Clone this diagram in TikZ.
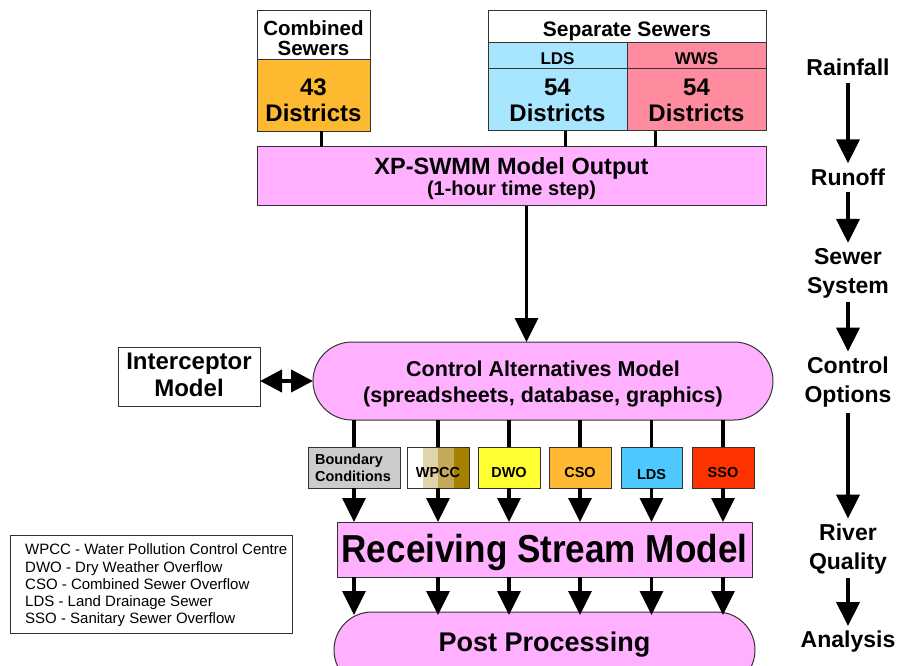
\documentclass[tikz,border=0pt]{standalone}
\usepackage{fontspec}
\setmainfont{Liberation Sans}
\newfontfamily\narrowfont[FakeStretch=0.9]{Liberation Sans}
\usetikzlibrary{arrows.meta}

\definecolor{modelpink}{HTML}{FFB0FF}
\definecolor{combinedorange}{HTML}{FDBA31}
\definecolor{ldsblue}{HTML}{A8E6FF}
\definecolor{wwspink}{HTML}{FF8C9E}
\definecolor{bcgray}{HTML}{CCCCCC}
\definecolor{dwoyellow}{HTML}{FFFF33}
\definecolor{csoorange}{HTML}{FFB833}
\definecolor{ldssmall}{HTML}{4DC9FF}
\definecolor{ssored}{HTML}{FF3300}
\definecolor{wpccA}{HTML}{E0D5AA}
\definecolor{wpccB}{HTML}{C5A95A}
\definecolor{wpccC}{HTML}{A68100}
\definecolor{edge}{HTML}{333333}

\newcommand{\fsz}[2]{\fontsize{#1}{#2}\selectfont}

\tikzset{
  box/.style={draw=edge, line width=1pt, inner sep=0pt, outer sep=0pt},
  stadium/.style={box, rounded corners=#1},
  txt/.style={inner sep=0pt, align=center, font=\bfseries},
  link/.style={line width=3.5pt, black},
  flow/.style={link, -{Triangle[width=23pt,length=24pt]}},
  twoway/.style={line width=4pt, black, {Triangle[width=22pt,length=22pt]}-{Triangle[width=22pt,length=22pt]}},
  stage/.style={txt, font=\bfseries\fsz{23}{29}},
  tag/.style={box, minimum height=41pt},
  tagtext/.style={txt, align=left, font=\bfseries\fsz{14.5}{17}},
}

\begin{document}
\begin{tikzpicture}[x=1pt, y=-1pt]
\useasboundingbox (0,0) rectangle (898,666);
\clip (0,0) rectangle (898,666);

% ---- sewer catchments ----
\node[box, fill=white, minimum width=113pt, minimum height=49pt] (cs) at (313.5,35) {};
\node[box, fill=combinedorange, minimum width=113pt, minimum height=72pt] (c43) at (313.5,95.5) {};
\node[txt, font=\bfseries\fsz{20.5}{20.5}] (cst) at ([yshift=-3pt]cs.center) {Combined\\Sewers};
\node[txt, font=\bfseries\fsz{24}{26}] (c43t) at ([yshift=-4.5pt]c43.center) {43\\Districts};

\node[box, fill=white, minimum width=278pt, minimum height=32pt] (ss) at (627,27) {};
\node[box, fill=ldsblue, minimum width=139pt, minimum height=26pt] (ldsh) at (557.5,56) {};
\node[box, fill=wwspink, minimum width=139pt, minimum height=26pt] (wwsh) at (696.5,56) {};
\node[box, fill=ldsblue, minimum width=139pt, minimum height=62pt] (lds54) at (557.5,100) {};
\node[box, fill=wwspink, minimum width=139pt, minimum height=62pt] (wws54) at (696.5,100) {};
\node[txt, font=\bfseries\fsz{21}{21}] (sst) at ([yshift=-4pt]ss.center) {Separate Sewers};
\node[txt, font=\bfseries\fsz{17}{17}] (ldsht) at ([yshift=-3pt]ldsh.center) {LDS};
\node[txt, font=\bfseries\fsz{17}{17}] (wwsht) at ([yshift=-3pt]wwsh.center) {WWS};
\node[txt, font=\bfseries\fsz{24}{26}] (lds54t) at (lds54.center) {54\\Districts};
\node[txt, font=\bfseries\fsz{24}{26}] (wws54t) at (wws54.center) {54\\Districts};

% ---- runoff model ----
\node[box, fill=modelpink, minimum width=509pt, minimum height=59pt] (xp) at (511.5,176.5) {};
\node[txt] (xpt) at ([yshift=-2pt]xp.center) {\fsz{23.5}{24}XP-SWMM Model Output\\\fsz{20}{24}(1-hour time step)};

\draw[link] ([xshift=8pt]c43.south) -- ([xshift=8pt]c43.south |- xp.north);
\draw[link] ([xshift=8pt]lds54.south) -- ([xshift=8pt]lds54.south |- xp.north);
\draw[link] ([xshift=-41pt]wws54.south) -- ([xshift=-41pt]wws54.south |- xp.north);

% ---- control alternatives ----
\node[stadium=39pt, fill=modelpink, minimum width=460pt, minimum height=78pt] (ca) at (543,381) {};
\node[txt, font=\bfseries\fsz{21.5}{26}] (cat) at ([yshift=-3pt]ca.center)
  {Control Alternatives Model\\(spreadsheets, database, graphics)};
\draw[flow] ([xshift=15pt]xp.south) -- ([xshift=15pt]xp.south |- ca.north);

\node[box, fill=white, minimum width=142pt, minimum height=59pt] (im) at (189,376.5) {};
\node[txt, font=\bfseries\fsz{24}{27}] (imt) at ([yshift=1.5pt]im.center) {Interceptor\\Model};
\draw[twoway] (im.east |- ca.west) -- (ca.west);

% ---- loading sources ----
\node[tag, fill=bcgray, minimum width=92pt] (bc) at (354,467.5) {};
\node[tag, minimum width=62pt] (wpcc) at (438,467.5) {};
\fill[white] (wpcc.north west) rectangle ([xshift=15.5pt]wpcc.south west);
\fill[wpccA] ([xshift=15.5pt]wpcc.north west) rectangle ([xshift=31pt]wpcc.south west);
\fill[wpccB] ([xshift=31pt]wpcc.north west) rectangle ([xshift=46.5pt]wpcc.south west);
\fill[wpccC] ([xshift=46.5pt]wpcc.north west) rectangle (wpcc.south east);
\draw[edge, line width=1pt] (wpcc.north west) rectangle (wpcc.south east);
\node[tag, fill=dwoyellow, minimum width=62pt] (dwo) at (509,467.5) {};
\node[tag, fill=csoorange, minimum width=62pt] (cso) at (580,467.5) {};
\node[tag, fill=ldssmall, minimum width=61pt] (ldss) at (651.5,467.5) {};
\node[tag, fill=ssored, minimum width=62pt] (sso) at (723,467.5) {};

\node[tagtext] (bct) at ([xshift=-1pt]bc.center) {Boundary\\Conditions};
\node[tagtext] (wpcct) at ([yshift=-5pt]wpcc.center) {WPCC};
\node[tagtext] (dwot) at ([yshift=-5pt]dwo.center) {DWO};
\node[tagtext] (csot) at ([yshift=-5pt]cso.center) {CSO};
\node[tagtext] (ldst) at ([yshift=-7pt]ldss.center) {LDS};
\node[tagtext] (ssot) at ([yshift=-5pt]sso.center) {SSO};

% ---- receiving stream and post processing ----
\node[box, fill=modelpink, minimum width=415pt, minimum height=55pt] (rsm) at (544.5,549.5) {};
\node[txt, font=\narrowfont\bfseries\fsz{39}{40}] (rsmt) at ([yshift=-3pt]rsm.center) {Receiving Stream Model};
\node[stadium=38pt, fill=modelpink, minimum width=421pt, minimum height=76pt] (pp) at (544.5,650) {};
\node[txt, font=\bfseries\fsz{27}{28}] (ppt) at (544.5,645) {Post Processing};

\foreach \s in {bc,wpcc,dwo,cso,ldss,sso}{
  \draw[link] (\s.north |- ca.south) -- (\s.north);
  \draw[flow] (\s.south) -- (\s.south |- rsm.north);
  \draw[flow] (\s.south |- rsm.south) -- ([yshift=-3pt]\s.south |- pp.north);
}

% ---- abbreviations ----
\node[box, minimum width=282pt, minimum height=98pt] (legend) at (151,584) {};
\node[anchor=west, align=left, inner sep=0pt, font=\fsz{15}{17.25}] (legendtext) at (25,585.5)
  {WPCC - Water Pollution Control Centre\\DWO - Dry Weather Overflow\\CSO - Combined Sewer Overflow\\LDS - Land Drainage Sewer\\SSO - Sanitary Sewer Overflow};

% ---- process stages ----
\node[stage] (rain) at (848,67) {Rainfall};
\node[stage] (runoff) at (848,177) {Runoff};
\node[stage] (sewer) at (848,273) {Sewer\\System};
\node[stage] (options) at (848,382) {Control\\Options};
\node[stage] (river) at (848,549) {River\\Quality};
\node[stage] (analysis) at (848,642) {Analysis};

\draw[flow] ([yshift=-7pt]rain.south) -- ([yshift=5pt]runoff.north);
\draw[flow] ([yshift=-6pt]runoff.south) -- ([yshift=5pt]sewer.north);
\draw[flow] ([yshift=-4pt]sewer.south) -- ([yshift=5pt]options.north);
\draw[flow] ([yshift=-6pt]options.south) -- ([yshift=5pt]river.north);
\draw[flow] ([yshift=-4pt]river.south) -- ([yshift=5pt]analysis.north);
\end{tikzpicture}
\end{document}
